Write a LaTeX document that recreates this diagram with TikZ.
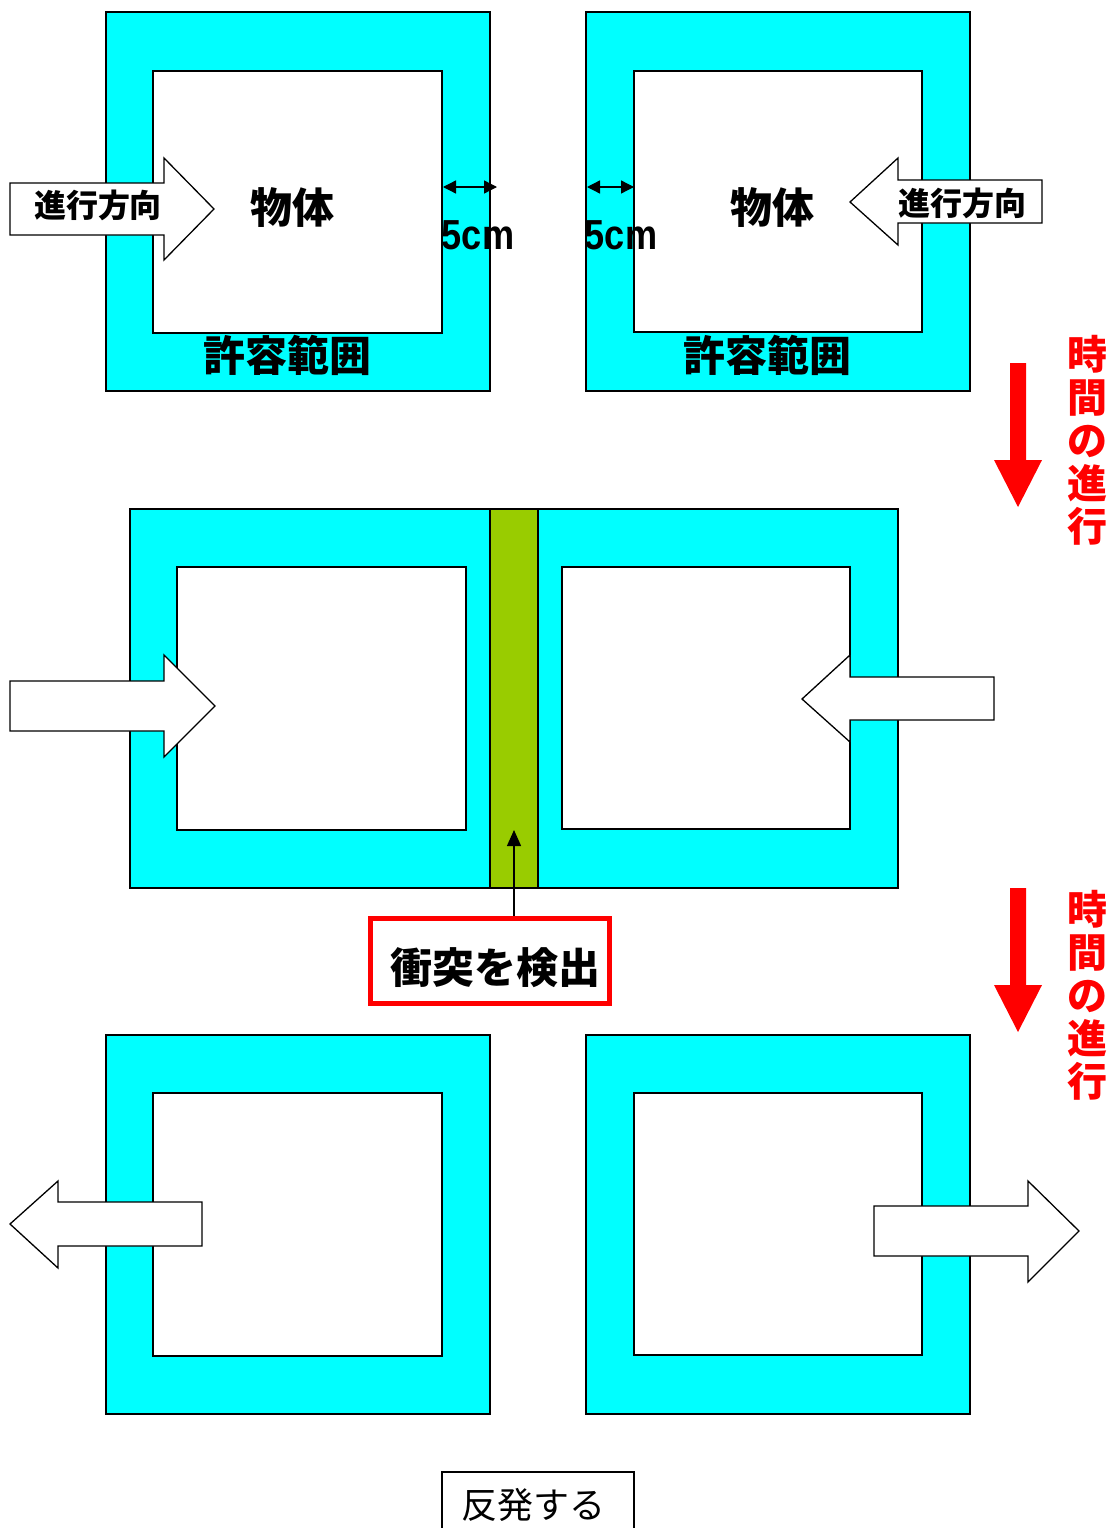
\documentclass[tikz,border=0pt]{standalone}
\usepackage{fontspec}
\setmainfont{Liberation Sans}
\newfontfamily\jp{Noto Sans CJK JP}
\usetikzlibrary{arrows.meta}
\definecolor{aqua}{RGB}{0,255,255}
\definecolor{leaf}{RGB}{153,204,0}
\begin{document}
\begin{tikzpicture}[x=1pt,y=-1pt,
  frame/.style={fill=aqua,draw=black,line width=1.5pt},
  inner/.style={fill=white,draw=black,line width=1.5pt},
  overlap/.style={fill=leaf,draw=black,line width=1.5pt},
  blockarrow/.style={fill=white,draw=black,line width=1.3pt,line join=miter},
  timearrow/.style={fill=red,draw=none},
  dimline/.style={{Stealth[length=13pt,width=13pt,inset=0pt]}-{Stealth[length=13pt,width=13pt,inset=0pt]},line width=1.3pt},
  jpbold/.style={font=\jp\bfseries\fontsize{#1}{#1}\selectfont,inner sep=0pt},
  timetext/.style={font=\jp\bfseries\fontsize{40}{43}\selectfont,text=red,align=center,inner sep=0pt},
  cmtext/.style={font=\bfseries\fontsize{42}{42}\selectfont,inner sep=0pt,xscale=0.86,transform shape}]
\useasboundingbox (0,0) rectangle (1118,1528);
% ---------- top row ----------
\draw[frame] (106,12) rectangle (490,391);
\draw[inner] (153,71) rectangle (442,333);
\draw[frame] (586,12) rectangle (970,391);
\draw[inner] (634,71) rectangle (922,332);
\draw[blockarrow] (10,183) -- (164,183) -- (164,158) -- (214,209) -- (164,260) -- (164,235) -- (10,235) -- cycle;
\draw[blockarrow] (1042,180) -- (898,180) -- (898,158) -- (850,202) -- (898,245) -- (898,223) -- (1042,223) -- cycle;
\node[jpbold=32] (dirL) at (98,205) {進行方向};
\node[jpbold=32] (dirR) at (962,203) {進行方向};
\node[jpbold=42] (objL) at (292,208) {物体};
\node[jpbold=42] (objR) at (772,208) {物体};
\node[jpbold=42] (tolL) at (287,355) {許容範囲};
\node[jpbold=42] (tolR) at (767,355) {許容範囲};
\coordinate (dlA) at (443,187);
\coordinate (dlB) at (497,187);
\coordinate (drA) at (587,187);
\coordinate (drB) at (634,187);
\draw[dimline] (dlA) -- (dlB);
\draw[dimline] (drA) -- (drB);
\node[cmtext] (cmL) at (478,235) {5cm};
\node[cmtext] (cmR) at (621,235) {5cm};
% ---------- time arrows ----------
\fill[timearrow] (1010,363) -- (1026,363) -- (1026,460) -- (1042,460) -- (1018,507) -- (994,460) -- (1010,460) -- cycle;
\fill[timearrow] (1010,888) -- (1026,888) -- (1026,985) -- (1042,985) -- (1018,1032) -- (994,985) -- (1010,985) -- cycle;
\node[timetext] (time1) at (1087,440) {時\\間\\の\\進\\行};
\node[timetext] (time2) at (1087,995) {時\\間\\の\\進\\行};
% ---------- middle row ----------
\draw[frame] (130,509) rectangle (538,888);
\draw[frame] (490,509) rectangle (898,888);
\draw[overlap] (490,509) rectangle (538,888);
\draw[inner] (177,567) rectangle (466,830);
\draw[inner] (562,567) rectangle (850,829);
\draw[blockarrow] (10,681) -- (164,681) -- (164,655) -- (215,706) -- (164,757) -- (164,731) -- (10,731) -- cycle;
\draw[blockarrow] (994,677) -- (850,677) -- (850,655) -- (802,699) -- (850,742) -- (850,720) -- (994,720) -- cycle;
\node[draw=red,line width=5pt,minimum width=239pt,minimum height=85pt,inner sep=0pt] (detect) at (490,961) {};
\node[jpbold=42] (detectText) at (495,968) {衝突を検出};
\coordinate (hit) at (514,830);
\draw[-{Stealth[length=16pt,width=14pt,inset=0pt]},line width=1.3pt] (detect.north -| hit) -- (hit);
% ---------- bottom row ----------
\draw[frame] (106,1035) rectangle (490,1414);
\draw[inner] (153,1093) rectangle (442,1356);
\draw[frame] (586,1035) rectangle (970,1414);
\draw[inner] (634,1093) rectangle (922,1355);
\draw[blockarrow] (202,1202) -- (58,1202) -- (58,1181) -- (10,1224) -- (58,1268) -- (58,1246) -- (202,1246) -- cycle;
\draw[blockarrow] (874,1206) -- (1028,1206) -- (1028,1181) -- (1079,1231) -- (1028,1282) -- (1028,1256) -- (874,1256) -- cycle;
\draw[line width=1.5pt,fill=white] (442,1545) -- (442,1472) -- (634,1472) -- (634,1545);
\node[font=\jp\fontsize{36}{36}\selectfont,inner sep=0pt] (rebound) at (533,1505) {反発する};
\end{tikzpicture}
\end{document}
